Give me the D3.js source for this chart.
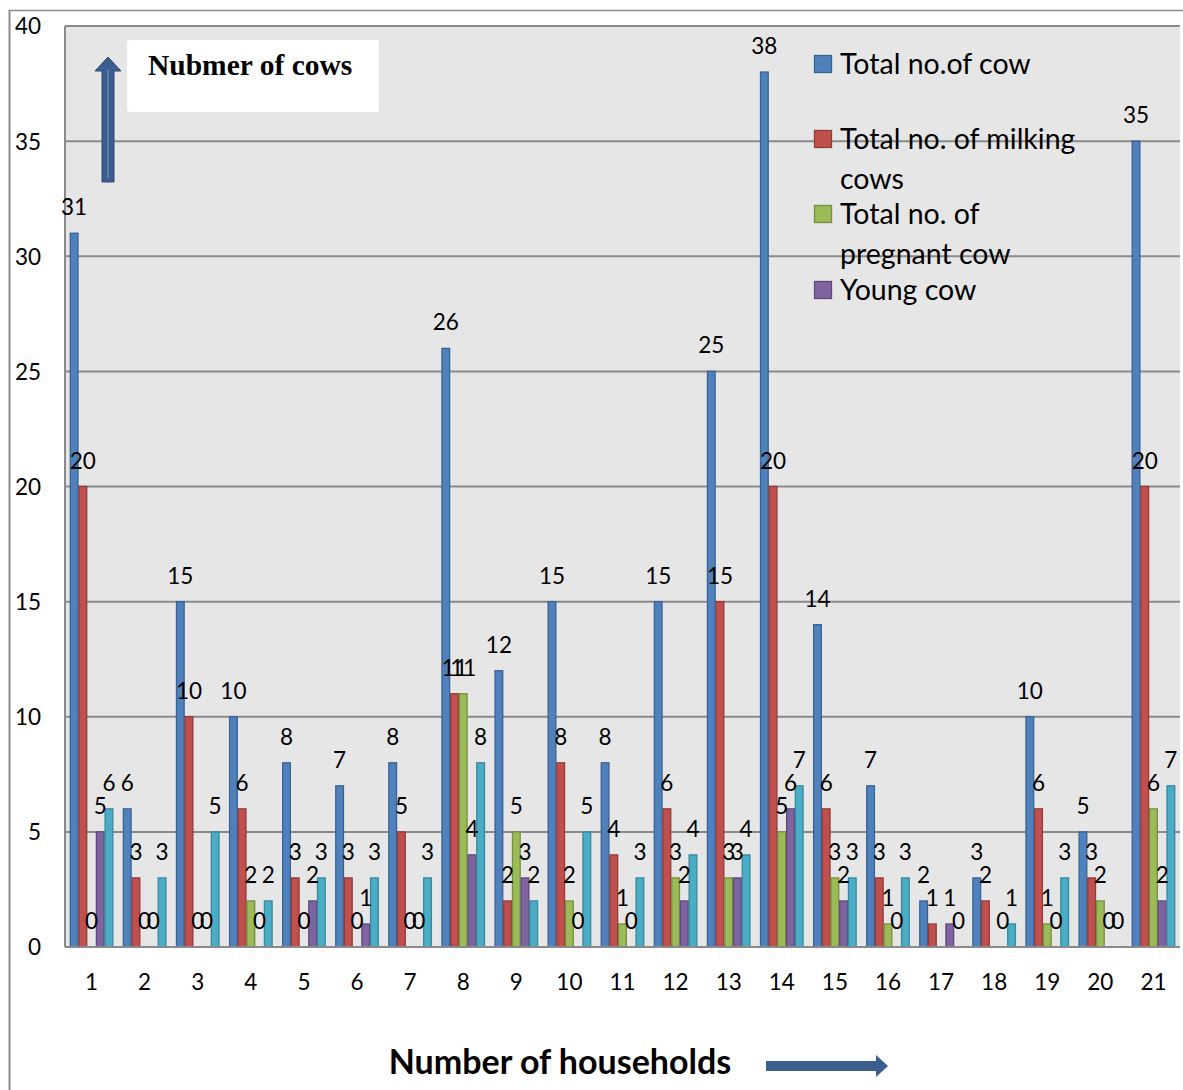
<!DOCTYPE html>
<html>
<head>
<meta charset="utf-8">
<script src="https://cdn.jsdelivr.net/npm/d3@7"></script>
<style>
  html, body { margin: 0; padding: 0; background: #ffffff; }
  svg { display: block; }
</style>
</head>
<body>
<svg id="chart" width="1183" height="1090"></svg>
<script>
// Households along the x axis
const households = ["1","2","3","4","5","6","7","8","9","10","11","12","13","14","15","16","17","18","19","20","21"];

// Counts per household (null = no value recorded)
const totalCows    = [31, 6, 15, 10, 8, 7, 8, 26, 12, 15, 8, 15, 25, 38, 14, 7, 2, 3, 10, 5, 35];
const milkingCows  = [20, 3, 10, 6, 3, 3, 5, 11, 2, 8, 4, 6, 15, 20, 6, 3, 1, 2, 6, 3, 20];
const pregnantCows = [0, 0, 0, 2, 0, 0, 0, 11, 5, 2, 1, 3, 3, 5, 3, 1, null, null, 1, 2, 6];
const youngCows    = [5, 0, 0, 0, 2, 1, 0, 4, 3, 0, 0, 2, 3, 6, 2, 0, 1, 0, 0, 0, 2];
const fifthSeries  = [6, 3, 5, 2, 3, 3, 3, 8, 2, 5, 3, 4, 4, 7, 3, 3, 0, 1, 3, 0, 7];

const legendLines = [["Total no.of cow"], ["Total no. of milking", "cows"], ["Total no. of", "pregnant cow"], ["Young cow"]];
const yTicks = [0, 5, 10, 15, 20, 25, 30, 35, 40];

const fills   = ["#4F81BD", "#C0504D", "#9BBB59", "#8064A2", "#4BACC6"];
const strokes = ["#3A6395", "#923C3A", "#76903F", "#5F4A7B", "#37899F"];

const allSeries = [totalCows, milkingCows, pregnantCows, youngCows, fifthSeries];

const svg = d3.select("#chart");
const plot = { left: 65, right: 1180, top: 26, bottom: 947 };
const sans = "Lato, 'Open Sans', sans-serif";

// outer chart frame
svg.append("line").attr("x1", 9.5).attr("x2", 9.5).attr("y1", 10).attr("y2", 1090)
  .attr("stroke", "#8c8c8c").attr("stroke-width", 2);
svg.append("line").attr("x1", 9).attr("x2", 1183).attr("y1", 10.5).attr("y2", 10.5)
  .attr("stroke", "#8c8c8c").attr("stroke-width", 1.5);

// plot background
svg.append("rect")
  .attr("x", plot.left).attr("y", plot.top)
  .attr("width", plot.right - plot.left).attr("height", plot.bottom - plot.top)
  .attr("fill", "#e6e6e6");

const y = d3.scaleLinear().domain([0, 40]).range([plot.bottom, plot.top]);
const x = d3.scaleBand().domain(households).range([plot.left, plot.right])
  .paddingInner(0.18).paddingOuter(0.09);
const xs = d3.scaleBand().domain(d3.range(allSeries.length)).range([0, x.bandwidth()]);

// horizontal gridlines
svg.append("g").selectAll("line").data(yTicks.filter(t => t > 0)).join("line")
  .attr("x1", plot.left).attr("x2", plot.right)
  .attr("y1", d => y(d)).attr("y2", d => y(d))
  .attr("stroke", "#8a8a8a").attr("stroke-width", 2);

// y axis tick labels
const yAxis = d3.axisLeft(y).tickValues(yTicks).tickSize(0).tickPadding(0);
const gy = svg.append("g").attr("transform", "translate(41,0)").call(yAxis);
gy.select(".domain").remove();
gy.selectAll("text").attr("font-family", sans)
  .attr("font-size", 22.5).attr("fill", "#000").attr("dy", "0.35em");

// x axis tick labels
const xAxis = d3.axisBottom(x).tickSize(0).tickPadding(0);
const gx = svg.append("g").attr("transform", `translate(0,${plot.bottom + 35})`).call(xAxis);
gx.select(".domain").remove();
gx.selectAll("text").attr("font-family", sans)
  .attr("font-size", 22.5).attr("fill", "#000").attr("dy", "0.35em");

// flatten values into bar records
const bars = [];
allSeries.forEach((vals, s) => {
  vals.forEach((v, i) => { if (v !== null) bars.push({ s, h: households[i], v }); });
});

// bars
svg.append("g").selectAll("rect").data(bars.filter(d => d.v > 0)).join("rect")
  .attr("x", d => x(d.h) + xs(d.s) + 0.5)
  .attr("y", d => y(d.v))
  .attr("width", xs.bandwidth() - 1)
  .attr("height", d => y(0) - y(d.v))
  .attr("fill", d => fills[d.s])
  .attr("stroke", d => strokes[d.s])
  .attr("stroke-width", 1.3);

// plot area axis lines
svg.append("line").attr("x1", plot.left).attr("x2", plot.right)
  .attr("y1", plot.bottom).attr("y2", plot.bottom)
  .attr("stroke", "#8a8a8a").attr("stroke-width", 2);
svg.append("line").attr("x1", plot.left).attr("x2", plot.left)
  .attr("y1", plot.top).attr("y2", plot.bottom)
  .attr("stroke", "#8a8a8a").attr("stroke-width", 2);

// value labels
svg.append("g").selectAll("text").data(bars).join("text")
  .attr("x", d => x(d.h) + xs(d.s) + xs.bandwidth() / 2)
  .attr("y", d => y(d.v) - 18)
  .attr("text-anchor", "middle")
  .attr("font-family", sans)
  .attr("font-size", 22.5)
  .attr("fill", "#000")
  .text(d => d.v);

// legend (first four series)
const lg = svg.append("g");
const rowY = [[64], [139, 179], [214, 254], [290]];
legendLines.forEach((lines, i) => {
  lg.append("rect").attr("x", 814.5).attr("y", rowY[i][0] - 8.5)
    .attr("width", 17).attr("height", 17)
    .attr("fill", fills[i]).attr("stroke", strokes[i]).attr("stroke-width", 1.3);
  lines.forEach((t, j) => {
    lg.append("text").attr("x", 840).attr("y", rowY[i][j]).attr("dy", "0.36em")
      .attr("font-family", sans).attr("font-size", 28.5)
      .attr("fill", "#000").text(t);
  });
});

// y-axis caption box with upward arrow
svg.append("rect").attr("x", 127).attr("y", 40).attr("width", 252).attr("height", 72)
  .attr("rx", 3).attr("fill", "#ffffff");
svg.append("text").attr("x", 148).attr("y", 75)
  .attr("font-family", "'Liberation Serif', 'Times New Roman', serif")
  .attr("font-weight", "bold").attr("font-size", 29.5).attr("fill", "#000")
  .text("Nubmer of cows");

const arrowFill = "#3A5F8E";
svg.append("path")
  .attr("d", "M102,182 L102,71 L95,71 L108,57 L121,71 L114,71 L114,182 Z")
  .attr("fill", arrowFill).attr("stroke", "#2f4d75").attr("stroke-width", 1);
svg.append("line").attr("x1", 108).attr("x2", 108).attr("y1", 70).attr("y2", 178)
  .attr("stroke", "#6f8fbf").attr("stroke-width", 1.2);

// x-axis caption with rightward arrow
svg.append("text").attr("x", 560).attr("y", 1062).attr("dy", "0.36em")
  .attr("text-anchor", "middle")
  .attr("font-family", sans)
  .attr("font-weight", "bold").attr("font-size", 34).attr("fill", "#000")
  .text("Number of households");
svg.append("path")
  .attr("d", "M766,1061 L876,1061 L876,1055 L888,1066 L876,1077 L876,1071 L766,1071 Z")
  .attr("fill", arrowFill);
</script>
</body>
</html>
